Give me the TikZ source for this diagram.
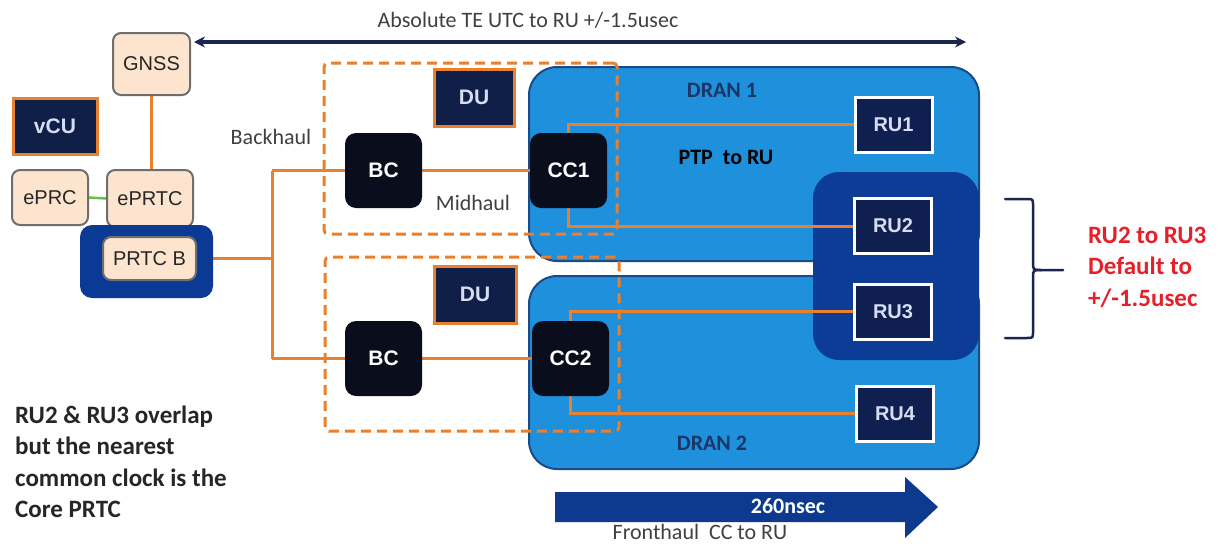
\documentclass[tikz,border=0pt]{standalone}
\usepackage{fontspec}
\setmainfont{Carlito}
\newfontfamily\boxfont{Liberation Sans}
\usetikzlibrary{arrows.meta}
\definecolor{orangeC}{HTML}{E8802E}
\definecolor{peach}{HTML}{FCE4CF}
\definecolor{peachborder}{HTML}{6E6E6E}
\definecolor{navyC}{HTML}{0F1F48}
\definecolor{ccblack}{HTML}{0A0E1C}
\definecolor{dranblue}{HTML}{1E90DC}
\definecolor{dranborder}{HTML}{1A4A8A}
\definecolor{groupblue}{HTML}{0C3C96}
\definecolor{ruFill}{HTML}{0F1F50}
\definecolor{prtcOuter}{HTML}{0B3A94}
\definecolor{arrowblue}{HTML}{0D3A8E}
\definecolor{redC}{HTML}{E5202A}
\definecolor{grayText}{HTML}{404040}
\definecolor{darkTxt}{HTML}{262626}
\definecolor{lavTxt}{HTML}{D6DDF2}
\definecolor{dranTxt}{HTML}{1C3564}
\definecolor{teNavy}{HTML}{1A2550}
\definecolor{greenC}{HTML}{6CC04A}
\pgfdeclarelayer{back}
\pgfdeclarelayer{dash}
\pgfdeclarelayer{wires}
\pgfsetlayers{back,dash,wires,main}
\begin{document}
\begin{tikzpicture}[x=1pt,y=-1pt,
  peachbox/.style={draw=peachborder, fill=peach, line width=2pt, rounded corners=8pt, inner sep=0pt,
    font=\boxfont\fontsize{20}{24}\selectfont, text=darkTxt},
  navybox/.style={draw=orangeC, fill=navyC, line width=3pt, inner sep=0pt,
    font=\boxfont\bfseries\fontsize{21}{24}\selectfont, text=lavTxt},
  blackbox/.style={fill=ccblack, rounded corners=11pt, inner sep=0pt, minimum width=77pt, minimum height=75pt,
    font=\boxfont\bfseries\fontsize{21}{24}\selectfont, text=white},
  rubox/.style={draw=white, fill=ruFill, line width=3pt, inner sep=0pt, minimum width=77pt, minimum height=55pt,
    font=\boxfont\bfseries\fontsize{20}{24}\selectfont, text=lavTxt},
  dashbox/.style={draw=orangeC, line width=3pt, dash pattern=on 10pt off 6pt, rounded corners=4pt},
  wire/.style={draw=orangeC, line width=3pt},
  dran/.style={fill=dranblue, draw=dranborder, line width=2pt, rounded corners=28pt, inner sep=0pt},
  lbl/.style={font=\fontsize{22}{26}\selectfont, text=grayText, inner sep=0pt},
  note/.style={font=\bfseries\fontsize{25}{31.5}\selectfont, align=left, inner sep=0pt}
]
\useasboundingbox (0,0) rectangle (1220,544);

% DRAN areas
\begin{pgfonlayer}{back}
\fill[white] (0,0) rectangle (1220,544);
\node[dran, minimum width=450pt, minimum height=194pt] (dran1) at (754,164) {};
\node[dran, minimum width=450pt, minimum height=193pt] (dran2) at (754,372.5) {};
\node[fill=groupblue, rounded corners=26pt, minimum width=166pt, minimum height=188pt, inner sep=0pt] (grp) at (896,266) {};
\end{pgfonlayer}

% dashed DU areas
\begin{pgfonlayer}{dash}
\node[dashbox, minimum width=293pt, minimum height=171pt, inner sep=0pt] (du1area) at (470.5,148.5) {};
\node[dashbox, minimum width=294pt, minimum height=174pt, inner sep=0pt] (du2area) at (472,344) {};
\end{pgfonlayer}

% core nodes
\node[peachbox, minimum width=77pt, minimum height=62pt] (gnss) at (151.5,64) {GNSS};
\node[navybox, minimum width=84pt, minimum height=56pt] (vcu) at (55,126) {vCU};
\node[peachbox, minimum width=76pt, minimum height=55pt] (eprc) at (50,197.5) {ePRC};
\node[peachbox, minimum width=86pt, minimum height=57pt] (eprtc) at (150,198.5) {ePRTC};
\node[fill=prtcOuter, rounded corners=12pt, minimum width=133pt, minimum height=73pt, inner sep=0pt] (prtcouter) at (146.5,261.5) {};
\node[peachbox, minimum width=93pt, minimum height=43pt] (prtcb) at (149.5,258.5) {PRTC B};

% DU / BC / CC
\node[navybox, minimum width=80pt, minimum height=57pt] (du1) at (474,97.5) {DU};
\node[blackbox] (bc1) at (383.5,170.5) {BC};
\node[blackbox] (cc1) at (568.5,170.5) {CC1};
\node[navybox, minimum width=82pt, minimum height=57pt] (du2) at (475,294.5) {DU};
\node[blackbox] (bc2) at (383.5,358.5) {BC};
\node[blackbox] (cc2) at (570.5,358.5) {CC2};

% RUs
\node[rubox] (ru1) at (893.5,124.5) {RU1};
\node[rubox] (ru2) at (893,226) {RU2};
\node[rubox] (ru3) at (893,311.5) {RU3};
\node[rubox] (ru4) at (895,413.5) {RU4};

% connectors
\coordinate (busT) at (272,170.5);
\coordinate (busB) at (272,358.5);
\begin{pgfonlayer}{wires}
\draw[wire] (gnss.south) -- (gnss.south |- eprtc.north);
\draw[draw=greenC, line width=2.5pt] (eprc.east) -- (eprtc.west);
\draw[wire] (prtcb.east) -- (prtcb.east -| busT);
\draw[wire] (busT) -- (busB);
\draw[wire] (busT) -- (bc1.west);
\draw[wire] (busB) -- (bc2.west);
\draw[wire] (bc1.east) -- (cc1.west);
\draw[wire] (bc2.east) -- (cc2.west);
\draw[wire] (cc1.north) |- (ru1.west);
\draw[wire] (cc1.south) |- (ru2.west);
\draw[wire] (cc2.north) |- (ru3.west);
\draw[wire] (cc2.south) |- (ru4.west);
\end{pgfonlayer}

% top time-error arrow
\coordinate (teL) at (194,42);
\coordinate (teR) at (966,42);
\draw[teNavy, line width=3.5pt, {Stealth[length=11pt,width=11pt]}-{Stealth[length=11pt,width=11pt]}] (teL) -- (teR);
\node[lbl] (telabel) at (528,20) {Absolute TE UTC to RU +/-1.5usec};

% labels
\node[lbl] (backhaul) at (271,137) {Backhaul};
\node[lbl] (midhaul) at (473,203) {Midhaul};
\node[lbl, text=dranTxt, font=\bfseries\fontsize{22}{26}\selectfont] (dran1lbl) at (722,90) {DRAN 1};
\node[lbl, text=black, font=\bfseries\fontsize{22}{26}\selectfont] (ptplbl) at (726,157) {PTP\ \ to RU};
\node[lbl, text=dranTxt, font=\bfseries\fontsize{22}{26}\selectfont] (dran2lbl) at (712,443) {DRAN 2};

% brace
\draw[teNavy, line width=2.5pt, line cap=round]
  (1005,199) -- (1027,199) .. controls (1033,199) .. (1033,206) -- (1033,262)
  .. controls (1033,270) .. (1041,270) -- (1063,270);
\draw[teNavy, line width=2.5pt, line cap=round]
  (1041,270) .. controls (1033,270) .. (1033,278) -- (1033,331)
  .. controls (1033,338) .. (1027,338) -- (1005,338);
\node[note, text=redC, anchor=west] (rednote) at (1088,267) {RU2 to RU3\\Default to\\+/-1.5usec};

% bottom-left note
\node[note, text=darkTxt, anchor=west] (overlap) at (15,462) {RU2 \& RU3 overlap\\but the nearest\\common clock is the\\Core PRTC};

% fronthaul arrow
\fill[arrowblue] (555,492) -- (905,492) -- (905,477) -- (938,507) -- (905,538) -- (905,522) -- (555,522) -- cycle;
\node[lbl, text=white, font=\bfseries\fontsize{22}{26}\selectfont] (fhval) at (788,506) {260nsec};
\node[lbl] (fhlbl) at (700,532) {Fronthaul\ \ CC to RU};
\end{tikzpicture}
\end{document}
